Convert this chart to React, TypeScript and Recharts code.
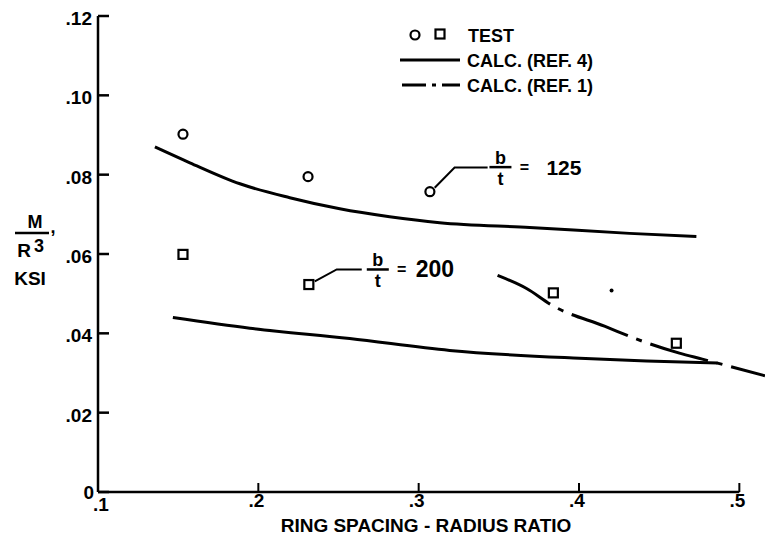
import React from "react"
import {
  ComposedChart,
  Line,
  Scatter,
  XAxis,
  YAxis,
  ReferenceLine,
  ReferenceDot,
  Legend,
} from "recharts"

const FONT = "'Liberation Sans', Arial, sans-serif"

// test points (circles b/t = 125, squares b/t = 200)
const circleX = [0.153, 0.231, 0.307]
const circleY = [0.0902, 0.0795, 0.0757]
const squareX = [0.153, 0.2315, 0.384, 0.4607]
const squareY = [0.0599, 0.0523, 0.0502, 0.0375]
// stray speck in the original print
const speckX = [0.4203]
const speckY = [0.0508]

// calc. (ref. 4) b/t = 125
const ref4UpperX = [0.1355, 0.1573, 0.1885, 0.2196, 0.2508, 0.2819, 0.3131, 0.3692, 0.4315, 0.4732]
const ref4UpperY = [0.087, 0.083, 0.0777, 0.0742, 0.0714, 0.0694, 0.0679, 0.0667, 0.0652, 0.0644]
// calc. (ref. 4) b/t = 200
const ref4LowerX = [0.1467, 0.1947, 0.257, 0.3193, 0.4003, 0.4421, 0.4863]
const ref4LowerY = [0.044, 0.0413, 0.0387, 0.0357, 0.0337, 0.033, 0.0325]
// calc. (ref. 1)
const ref1X = [0.3492, 0.3673, 0.3835, 0.4159, 0.4396, 0.4626, 0.4769, 0.516]
const ref1Y = [0.0546, 0.0513, 0.047, 0.0418, 0.038, 0.035, 0.0335, 0.0293]

// leader lines of the b/t notes
const lead125X = [0.31, 0.3224, 0.343]
const lead125Y = [0.0767, 0.0818, 0.0818]
const lead200X = [0.2352, 0.2489, 0.2645]
const lead200Y = [0.0531, 0.0561, 0.0561]

const noteX = [0.351, 0.2745]
const noteY = [0.0819, 0.0561]
const noteValues = ["125", "200"]
const noteSizes = [21, 23]

const xTicks = [0.1, 0.2, 0.3, 0.4, 0.5]
const xTickLabels = [".1", ".2", ".3", ".4", ".5"]
const yTicks = [0, 0.02, 0.04, 0.06, 0.08, 0.1, 0.12]
const yTickLabels = ["0", ".02", ".04", ".06", ".08", ".10", ".12"]

const legendLabels = ["TEST", "CALC. (REF. 4)", "CALC. (REF. 1)"]

const xTitle = "RING SPACING - RADIUS RATIO"

const zip = (xs: number[], ys: number[]) => xs.map((x, i) => ({ x, y: ys[i] }))

const YTick = (props: any) => {
  const { x, y, payload } = props
  const i = yTicks.indexOf(payload.value)
  return (
    <g>
      <line x1={x} y1={y} x2={x + 11} y2={y} stroke="#000" strokeWidth={2.5} />
      <text x={x - (i === 0 ? 4 : 6)} y={y + (i === 0 ? 7 : 9)} textAnchor="end" fontFamily={FONT} fontWeight="bold" fontSize={19} fill="#000">
        {yTickLabels[i]}
      </text>
    </g>
  )
}

const XTick = (props: any) => {
  const { x, y, payload } = props
  const i = xTicks.findIndex((t) => Math.abs(t - payload.value) < 1e-9)
  return (
    <g>
      <line x1={x} y1={y} x2={x} y2={y - 9} stroke="#000" strokeWidth={2} />
      <text x={x + (i === 0 ? 3 : -2)} y={y + (i === 0 ? 19 : 15)} textAnchor="middle" fontFamily={FONT} fontWeight="bold" fontSize={19} fill="#000">
        {xTickLabels[i]}
      </text>
    </g>
  )
}

const Circle = (props: any) => (
  <circle cx={props.cx} cy={props.cy} r={4.5} fill="#fff" stroke="#000" strokeWidth={2.2} />
)
const Square = (props: any) => (
  <rect x={props.cx - 4.5} y={props.cy - 4.5} width={9} height={9} fill="#fff" stroke="#000" strokeWidth={2.2} />
)
const Speck = (props: any) => <circle cx={props.cx} cy={props.cy} r={2} fill="#000" />

const Note = (i: number) => (props: any) => {
  const { cx, cy } = props
  return (
    <g fontFamily={FONT} fontWeight="bold" fill="#000">
      <text x={cx} y={cy - 3} textAnchor="middle" fontSize={18}>b</text>
      <line x1={cx - 11} y1={cy} x2={cx + 11} y2={cy} stroke="#000" strokeWidth={2.5} />
      <text x={cx} y={cy + 18} textAnchor="middle" fontSize={18}>t</text>
      <text x={cx + 24} y={cy + 6} textAnchor="middle" fontSize={16}>=</text>
      <text x={cx + (i === 0 ? 46 : 38)} y={cy + 8} fontSize={noteSizes[i]}>{noteValues[i]}</text>
    </g>
  )
}

const LegendBox = () => (
  <svg width={230} height={80} style={{ display: "block" }}>
    <g fontFamily={FONT} fontWeight="bold" fill="#000" fontSize={18}>
      <circle cx={20} cy={15} r={4.5} fill="#fff" stroke="#000" strokeWidth={2.2} />
      <rect x={40.5} y={9.5} width={9} height={9} fill="#fff" stroke="#000" strokeWidth={2.2} />
      <text x={73} y={22}>{legendLabels[0]}</text>
      <line x1={5} y1={40} x2={65} y2={40} stroke="#000" strokeWidth={3} />
      <text x={72} y={47}>{legendLabels[1]}</text>
      <line x1={7} y1={65} x2={65} y2={65} stroke="#000" strokeWidth={3} strokeDasharray="24 6 4 6" />
      <text x={72} y={72}>{legendLabels[2]}</text>
    </g>
  </svg>
)

const YTitle = (props: any) => {
  const vx = props.viewBox ? props.viewBox.x : 0
  return (
    <g fontFamily={FONT} fontWeight="bold" fill="#000">
      <text x={vx + 35} y={228} textAnchor="middle" fontSize={18}>M</text>
      <line x1={vx + 15} y1={233} x2={vx + 49} y2={233} stroke="#000" strokeWidth={2.5} />
      <text x={vx + 24} y={257} textAnchor="middle" fontSize={19}>R</text>
      <text x={vx + 39} y={252} textAnchor="middle" fontSize={18}>3</text>
      <text x={vx + 53} y={233} textAnchor="middle" fontSize={18}>,</text>
      <text x={vx + 30} y={285} textAnchor="middle" fontSize={19}>KSI</text>
    </g>
  )
}

const XTitle = (props: any) => {
  const vb = props.viewBox || { x: 0, y: 0 }
  return (
    <text x={426} y={vb.y + 40} textAnchor="middle" fontFamily={FONT} fontWeight="bold" fontSize={19} fill="#000">
      {xTitle}
    </text>
  )
}

export default function App() {
  return (
    <div style={{ position: "absolute", left: 0, top: 0, background: "#fff" }}>
      <ComposedChart width={765} height={539} margin={{ top: 16, right: 0, bottom: 0, left: 0 }}>
        <XAxis
          type="number"
          dataKey="x"
          domain={[0.1, 0.516]}
          allowDataOverflow
          ticks={xTicks}
          tick={<XTick />}
          tickSize={0}
          tickMargin={0}
          axisLine={false}
          height={47}
          label={<XTitle />}
        />
        <YAxis
          type="number"
          dataKey="y"
          domain={[0, 0.12]}
          ticks={yTicks}
          tick={<YTick />}
          tickSize={0}
          tickMargin={0}
          width={98}
          axisLine={{ stroke: "#000", strokeWidth: 2.5 }}
          label={<YTitle />}
        />
        <ReferenceLine
          segment={[
            { x: 0.1, y: 0 },
            { x: 0.5, y: 0 },
          ]}
          stroke="#000"
          strokeWidth={2.5}
        />
        <Legend
          layout="vertical"
          align="center"
          verticalAlign="middle"
          content={<LegendBox />}
          wrapperStyle={{ left: 395, top: 20, width: 230, height: 80 }}
        />
        <Line data={zip(ref4UpperX, ref4UpperY)} dataKey="y" type="monotone" stroke="#000" strokeWidth={3} dot={false} isAnimationActive={false} legendType="none" />
        <Line data={zip(ref4LowerX, ref4LowerY)} dataKey="y" type="monotone" stroke="#000" strokeWidth={3} dot={false} isAnimationActive={false} legendType="none" />
        <Line data={zip(ref1X, ref1Y)} dataKey="y" type="monotone" stroke="#000" strokeWidth={3} strokeDasharray="60 9 6 9" dot={false} isAnimationActive={false} legendType="none" />
        <Line data={zip(lead125X, lead125Y)} dataKey="y" type="linear" stroke="#000" strokeWidth={2} dot={false} isAnimationActive={false} legendType="none" />
        <Line data={zip(lead200X, lead200Y)} dataKey="y" type="linear" stroke="#000" strokeWidth={2} dot={false} isAnimationActive={false} legendType="none" />
        <Scatter data={zip(circleX, circleY)} dataKey="y" shape={<Circle />} isAnimationActive={false} legendType="none" />
        <Scatter data={zip(squareX, squareY)} dataKey="y" shape={<Square />} isAnimationActive={false} legendType="none" />
        <Scatter data={zip(speckX, speckY)} dataKey="y" shape={<Speck />} isAnimationActive={false} legendType="none" />
        {noteX.map((x, i) => (
          <ReferenceDot key={i} x={x} y={noteY[i]} r={1} shape={Note(i)} />
        ))}
      </ComposedChart>
    </div>
  )
}
